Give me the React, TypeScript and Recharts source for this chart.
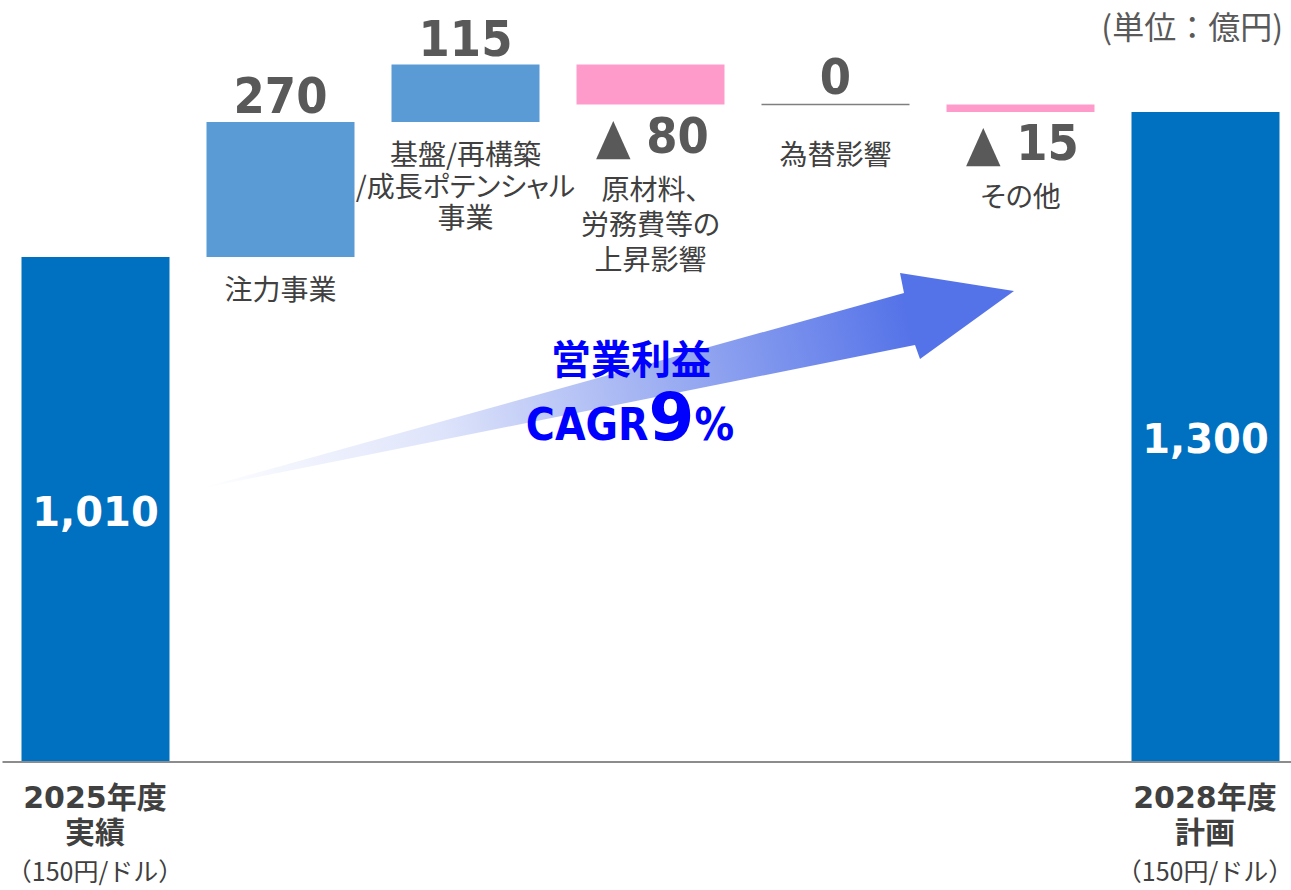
import React from 'react';
import { BarChart, Bar, XAxis, YAxis, Customized } from 'recharts';

const categories = ['2025年度実績', '注力事業', '基盤/再構築/成長ポテンシャル事業', '原材料、労務費等の上昇影響', '為替影響', 'その他', '2028年度計画'];
const amounts = [1010, 270, 115, -80, 0, -15, 1300];
const isTotal = [true, false, false, false, false, false, true];
const stepLabelLines = [[], ['注力事業'], ['基盤/再構築', '/成長ポテンシャル', '事業'], ['原材料、', '労務費等の', '上昇影響'], ['為替影響'], ['その他'], []];
const axisLabelLines = [['2025年度', '実績'], [], [], [], [], [], ['2028年度', '計画']];
const rateNote = '（150円/ドル）';
const unitNote = '(単位：億円)';
const cagrTitle = '営業利益';
const cagrValue = 9;

const TOTAL = '#0070C0';
const UP = '#5B9BD5';
const DOWN = '#FF9BCB';
const FLAT = '#7F7F7F';
const VALUE_GRAY = '#595959';
const TEXT_GRAY = '#404040';
const JP = "'Noto Sans CJK JP', sans-serif";
const NUM = "'DejaVu Sans', 'Noto Sans CJK JP', sans-serif";
const NUM_C = "'DejaVu Sans Condensed', 'DejaVu Sans', 'Noto Sans CJK JP', sans-serif";
const PALT = { fontFeatureSettings: '"palt"' };

// waterfall: transparent base + visible step
let running = 0;
const data = categories.map((name, i) => {
  const v = amounts[i];
  if (isTotal[i]) {
    running = v;
    return { name, base: 0, size: v, value: v };
  }
  const base = v >= 0 ? running : running + v;
  running += v;
  return { name, base, size: Math.abs(v), value: v };
});

const fmt = (v: number) => (v < 0 ? `▲ ${Math.abs(v)}` : v.toLocaleString('en-US'));

const StepLines = ({ cx, top, gap, lines }: any) => (
  <>
    {lines.map((t: string, k: number) => (
      <text key={k} x={cx} y={top + k * gap} textAnchor="middle" dominantBaseline="central"
        fontFamily={JP} fontSize={28} fill={TEXT_GRAY} style={PALT}>{t}</text>
    ))}
  </>
);

const WaterfallShape = (props: any) => {
  const { x, y, width, height, payload, index } = props;
  const v = payload.value;
  const cx = x + width / 2;
  const bottom = y + height;
  const lines = stepLabelLines[index] || [];

  if (isTotal[index]) {
    return (
      <g>
        <rect x={x} y={y} width={width} height={height} fill={TOTAL} />
        <text x={cx} y={y + height / 2 + 2} textAnchor="middle" dominantBaseline="central"
          fontFamily={NUM} fontWeight="bold" fontSize={40} fill="#fff">{fmt(v)}</text>
      </g>
    );
  }
  if (v > 0) {
    return (
      <g>
        <rect x={x} y={y} width={width} height={height} fill={UP} />
        <text x={cx} y={y - 9} textAnchor="middle" fontFamily={NUM_C} fontStretch="condensed"
          fontWeight="bold" fontSize={50} fill={VALUE_GRAY}>{fmt(v)}</text>
        <StepLines cx={cx} top={bottom + 31} gap={31.5} lines={lines} />
      </g>
    );
  }
  if (v < 0) {
    return (
      <g>
        <rect x={x} y={y} width={width} height={height} fill={DOWN} />
        <text x={cx + 2} y={bottom + 48} textAnchor="middle" fontFamily={NUM_C} fontStretch="condensed"
          fontWeight="bold" fontSize={50} fill={VALUE_GRAY}>{fmt(v)}</text>
        <StepLines cx={cx} top={bottom + 83} gap={35} lines={lines} />
      </g>
    );
  }
  return (
    <g>
      <line x1={x} x2={x + width} y1={y} y2={y} stroke={FLAT} strokeWidth={1.5} />
      <text x={cx} y={y - 11} textAnchor="middle" fontFamily={NUM_C} fontStretch="condensed"
        fontWeight="bold" fontSize={50} fill={VALUE_GRAY}>{fmt(v)}</text>
      <StepLines cx={cx} top={y + 48} gap={31.5} lines={lines} />
    </g>
  );
};

const AxisTick = (props: any) => {
  const { x, y, payload } = props;
  const idx = payload.index;
  const lines = axisLabelLines[idx] || [];
  if (!lines.length) return <g />;
  return (
    <g>
      {lines.map((t: string, k: number) => (
        <text key={k} x={x} y={y + 35 + k * 35} textAnchor="middle" dominantBaseline="central"
          fontFamily={NUM} fontWeight="bold" fontSize={30} fill={TEXT_GRAY}>{t}</text>
      ))}
      <text x={x} y={y + 108} textAnchor="middle" dominantBaseline="central"
        fontFamily={JP} fontSize={25} fill={TEXT_GRAY}>{rateNote}</text>
    </g>
  );
};

const Overlay = () => (
  <g>
    <defs>
      <linearGradient id="arrowFade" gradientUnits="userSpaceOnUse" x1="196" y1="490" x2="905" y2="305">
        <stop offset="0" stopColor="#5573E8" stopOpacity={0} />
        <stop offset="0.35" stopColor="#5573E8" stopOpacity={0.2} />
        <stop offset="1" stopColor="#5573E8" stopOpacity={1} />
      </linearGradient>
    </defs>
    <polygon points="198,489 904,293 900,273 1014,291 920,359 915,345" fill="url(#arrowFade)" />
    <text x={631} y={357} textAnchor="middle" dominantBaseline="central" fontFamily={JP}
      fontWeight="bold" fontSize={40} fill="#0000FF">{cagrTitle}</text>
    <text x={630} y={440} textAnchor="middle" fontFamily={NUM_C} fontStretch="condensed"
      fontWeight="bold" fill="#0000FF">
      <tspan fontSize={44}>CAGR</tspan>
      <tspan fontSize={66} fontFamily={NUM} fontStretch="normal">{cagrValue}</tspan>
      <tspan fontSize={44}>%</tspan>
    </text>
    <text x={1283} y={25} textAnchor="end" dominantBaseline="central" fontFamily={JP}
      fontSize={32} fill={VALUE_GRAY}>{unitNote}</text>
  </g>
);

export default function App() {
  return (
    <div style={{ position: 'absolute', left: 0, top: 0, width: 1291, height: 890, overflow: 'hidden', background: '#fff' }}>
      <BarChart width={1300} height={890} data={data} barSize={148}
        margin={{ top: 12, right: 2.5, bottom: 0, left: 2.5 }}>
        <YAxis hide type="number" domain={[0, 1500]} />
        <XAxis dataKey="name" height={128} tickLine={false} tickSize={0} tickMargin={0}
          axisLine={{ stroke: '#8C8C8C', strokeWidth: 2 }} tick={<AxisTick />} interval={0} />
        <Bar dataKey="base" stackId="w" fill="transparent" isAnimationActive={false} />
        <Bar dataKey="size" stackId="w" shape={<WaterfallShape />} isAnimationActive={false} />
        <Customized component={<Overlay />} />
      </BarChart>
    </div>
  );
}
